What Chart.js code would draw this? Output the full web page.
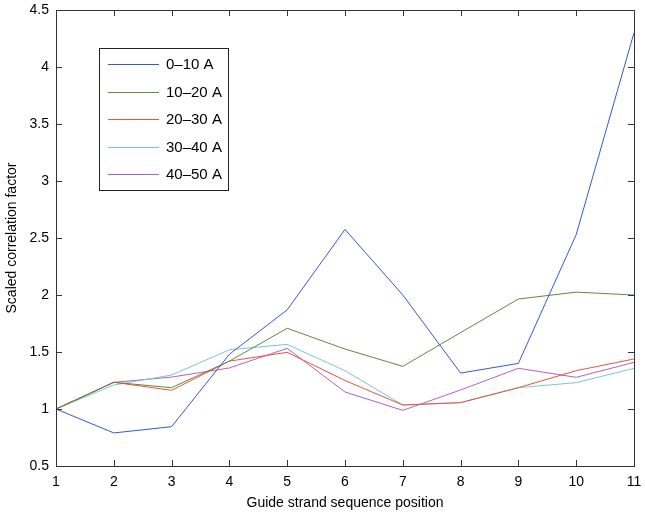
<!DOCTYPE html>
<html><head><meta charset="utf-8">
<script src="https://cdn.jsdelivr.net/npm/chart.js@4"></script>
<style>html,body{margin:0;padding:0;background:#fff}</style>
</head>
<body>
<canvas id="c" width="645" height="514"></canvas>
<script>
const positions = ['1','2','3','4','5','6','7','8','9','10','11'];
const seriesNames = ['0\u201310 A','10\u201320 A','20\u201330 A','30\u201340 A','40\u201350 A'];
const s0_10  = [1, 0.79, 0.845, 1.48, 1.87, 2.575, 2.0, 1.315, 1.40, 2.53, 4.30];
const s10_20 = [1, 1.234, 1.187, 1.42, 1.708, 1.526, 1.374, 1.67, 1.965, 2.025, 2.0];
const s20_30 = [1, 1.234, 1.164, 1.42, 1.497, 1.25, 1.035, 1.056, 1.187, 1.336, 1.439];
const s30_40 = [1, 1.21, 1.298, 1.52, 1.567, 1.336, 1.035, 1.056, 1.187, 1.231, 1.357];
const s40_50 = [1, 1.234, 1.28, 1.36, 1.532, 1.149, 0.988, 1.167, 1.357, 1.278, 1.409];
const seriesColors = ['#3556dc','#5f8a3e','#e8553c','#78c8cc','#b45fcc'];
const yMin = 0.5, yMax = 4.5, yStep = 0.5;

const FONT = 'Liberation Sans, Arial, Helvetica, sans-serif';
const allSeries = [s0_10, s10_20, s20_30, s30_40, s40_50];

const boxPlugin = {
  id: 'box',
  afterDraw(chart) {
    const {ctx, chartArea: a, scales} = chart;
    ctx.save();
    ctx.strokeStyle = '#333';
    ctx.lineWidth = 1;
    ctx.strokeRect(Math.round(a.left)+0.5, Math.round(a.top)+0.5, Math.round(a.right-a.left), Math.round(a.bottom-a.top));
    const tl = 6;
    ctx.beginPath();
    scales.x.ticks.forEach((t, i) => {
      const px = Math.round(scales.x.getPixelForTick(i)) + 0.5;
      ctx.moveTo(px, a.bottom); ctx.lineTo(px, a.bottom - tl);
      ctx.moveTo(px, a.top); ctx.lineTo(px, a.top + tl);
    });
    scales.y.ticks.forEach(t => {
      const py = Math.round(scales.y.getPixelForValue(t.value)) + 0.5;
      ctx.moveTo(a.left, py); ctx.lineTo(a.left + tl, py);
      ctx.moveTo(a.right, py); ctx.lineTo(a.right - tl, py);
    });
    ctx.stroke();
    // legend box
    const lx = 99.5, ly = 48.5, lw = 129, lh = 142;
    ctx.fillStyle = '#fff';
    ctx.fillRect(lx, ly, lw, lh);
    ctx.strokeStyle = '#222';
    ctx.strokeRect(lx, ly, lw, lh);
    ctx.font = '15px ' + FONT;
    ctx.textBaseline = 'middle';
    ctx.textAlign = 'left';
    chart.data.datasets.forEach((ds, i) => {
      const y = 64 + i * 27.5;
      ctx.strokeStyle = ds.borderColor;
      ctx.beginPath();
      ctx.moveTo(108, Math.round(y)+0.5); ctx.lineTo(159, Math.round(y)+0.5);
      ctx.stroke();
      ctx.fillStyle = '#000';
      ctx.fillText(ds.label, 166, y + 1);
    });
    ctx.restore();
  }
};

new Chart(document.getElementById('c'), {
  type: 'line',
  data: {
    labels: positions,
    datasets: allSeries.map((s, i) => ({
      label: seriesNames[i], data: s, borderColor: seriesColors[i],
      borderWidth: 1, pointRadius: 0, tension: 0, fill: false
    }))
  },
  options: {
    responsive: false, animation: false,
    layout: {padding: {top: 10, right: 11, left: 0, bottom: 0}},
    plugins: {legend: {display: false}, tooltip: {enabled: false}},
    scales: {
      x: {
        type: 'category', offset: false,
        grid: {display: false, drawTicks: false}, border: {display: false},
        ticks: {color: '#000', font: {family: FONT, size: 14}, padding: 8, maxRotation: 0, autoSkip: false},
        title: {display: true, text: 'Guide strand sequence position', color: '#000', font: {family: FONT, size: 14}, padding: {top: 0, bottom: 2}},
        afterFit(s) { s.height = 48; s.paddingLeft = 0; s.paddingRight = 0; }
      },
      y: {
        min: yMin, max: yMax,
        grid: {display: false, drawTicks: false}, border: {display: false},
        ticks: {stepSize: yStep, color: '#000', font: {family: FONT, size: 14}, padding: 7,
                callback: v => String(Math.round(v * 10) / 10)},
        title: {display: true, text: 'Scaled correlation factor', color: '#000', font: {family: FONT, size: 14}, padding: {top: 4, bottom: 0}},
        afterFit(s) { s.width = 56; s.paddingTop = 0; s.paddingBottom = 0; }
      }
    }
  },
  plugins: [boxPlugin]
});
</script>
</body></html>
